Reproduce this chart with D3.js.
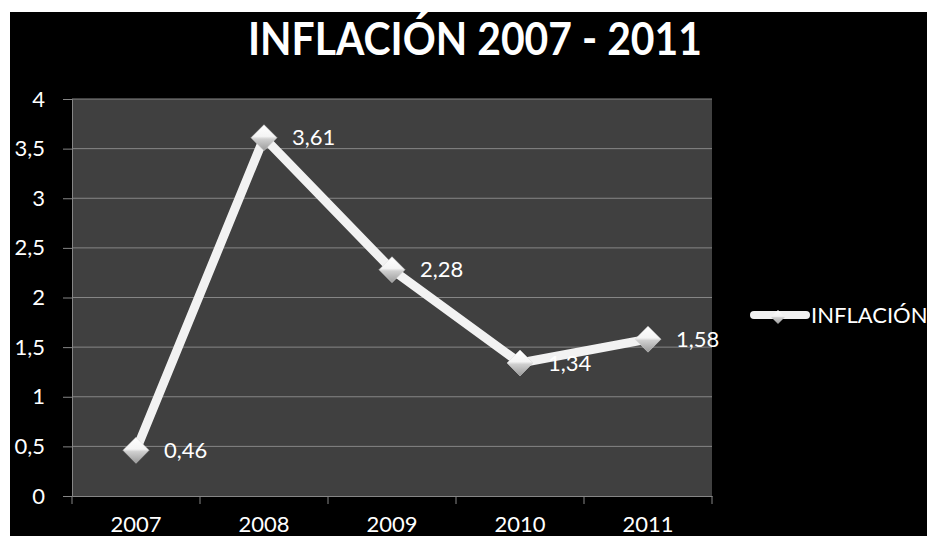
<!DOCTYPE html>
<html>
<head>
<meta charset="utf-8">
<script src="https://cdn.jsdelivr.net/npm/d3@7"></script>
<style>
  html, body { margin: 0; padding: 0; background: #fff; }
  svg { display: block; }
  text { font-family: Lato, "Open Sans", sans-serif; fill: #fff; }
</style>
</head>
<body>
<svg id="chart" width="927" height="536"></svg>
<script>
// Inflation by year
const years = ["2007", "2008", "2009", "2010", "2011"];
const inflation = [0.46, 3.61, 2.28, 1.34, 1.58];
const yTicks = [0, 0.5, 1, 1.5, 2, 2.5, 3, 3.5, 4];
const titleText = "INFLACIÓN 2007 - 2011";
const seriesName = "INFLACIÓN";

const W = 927, H = 536;
const FS = 22;
const FONT = "Lato, 'Open Sans', sans-serif";
const svg = d3.select("#chart");

// page background: black chart area inset from a white margin
svg.append("rect").attr("x", 0).attr("y", 0).attr("width", W).attr("height", H).attr("fill", "#fff");
svg.append("rect").attr("x", 10).attr("y", 12).attr("width", W - 10).attr("height", H - 12).attr("fill", "#000");

const plot = { left: 72, right: 712, top: 99, bottom: 496 };

const x = d3.scaleBand().domain(years).range([plot.left, plot.right]).padding(0);
const y = d3.scaleLinear().domain([0, 4]).range([plot.bottom, plot.top]);

// plot area
svg.append("rect")
  .attr("x", plot.left).attr("y", plot.top)
  .attr("width", plot.right - plot.left).attr("height", plot.bottom - plot.top)
  .attr("fill", "#404040");

// horizontal gridlines
svg.append("g").selectAll("line").data(yTicks.filter(d => d > 0)).join("line")
  .attr("x1", plot.left).attr("x2", plot.right)
  .attr("y1", d => y(d)).attr("y2", d => y(d))
  .attr("stroke", "#868686").attr("stroke-width", 1);

const fmt = d => String(d).replace(".", ",");

// y axis
const yAxis = svg.append("g")
  .attr("transform", `translate(${plot.left},0)`)
  .call(d3.axisLeft(y).tickValues(yTicks).tickFormat(fmt).tickSize(9).tickPadding(18));
yAxis.select(".domain").attr("stroke", "#868686");
yAxis.selectAll(".tick line").attr("stroke", "#868686");
yAxis.selectAll(".tick text").attr("font-size", FS).attr("fill", "#fff")
  .style("font-family", FONT);

// x axis, ticks on category boundaries
const xAxis = svg.append("g")
  .attr("transform", `translate(0,${plot.bottom})`)
  .call(d3.axisBottom(x).tickSize(0));
xAxis.select(".domain").attr("stroke", "#868686");
xAxis.selectAll(".tick text").attr("font-size", FS).attr("fill", "#fff")
  .attr("y", 36).attr("dy", 0)
  .style("font-family", FONT);
const bounds = years.map(d => x(d)).concat([x(years[years.length - 1]) + x.bandwidth()]);
xAxis.selectAll("line.bound").data(bounds).join("line")
  .attr("class", "bound")
  .attr("x1", d => d).attr("x2", d => d)
  .attr("y1", 0).attr("y2", 8)
  .attr("stroke", "#868686");

// marker gradient
const defs = svg.append("defs");
const grad = defs.append("linearGradient").attr("id", "mk").attr("x1", 0).attr("y1", 0).attr("x2", 0).attr("y2", 1);
grad.append("stop").attr("offset", "0%").attr("stop-color", "#ffffff");
grad.append("stop").attr("offset", "45%").attr("stop-color", "#f4f4f4");
grad.append("stop").attr("offset", "55%").attr("stop-color", "#cfcfcf");
grad.append("stop").attr("offset", "100%").attr("stop-color", "#9a9a9a");

const cx = d => x(d) + x.bandwidth() / 2;
const pts = years.map((d, i) => [cx(d), y(inflation[i])]);

// series line
svg.append("path")
  .attr("d", d3.line()(pts))
  .attr("fill", "none")
  .attr("stroke", "#f2f2f2")
  .attr("stroke-width", 9)
  .attr("stroke-linejoin", "round")
  .attr("stroke-linecap", "round");

const diamond = (r) => `M0,${-r}L${r},0L0,${r}L${-r},0Z`;

// markers
svg.append("g").selectAll("path").data(pts).join("path")
  .attr("transform", d => `translate(${d[0]},${d[1]})`)
  .attr("d", diamond(13))
  .attr("fill", "url(#mk)")
  .attr("stroke", "#d8d8d8")
  .attr("stroke-width", 0.5);

// value labels
svg.append("g").selectAll("text").data(years).join("text")
  .attr("x", d => cx(d) + 28)
  .attr("y", (d, i) => y(inflation[i]))
  .attr("dy", "0.35em")
  .attr("font-size", FS)
  .text((d, i) => fmt(inflation[i]));

// title
svg.append("text")
  .attr("x", 475).attr("y", 55)
  .attr("text-anchor", "middle")
  .attr("font-size", 45)
  .attr("font-weight", "bold")
  .attr("textLength", 454)
  .attr("lengthAdjust", "spacingAndGlyphs")
  .text(titleText);

// legend
const lg = svg.append("g").attr("transform", "translate(750,315)");
lg.append("line").attr("x1", 4).attr("x2", 56).attr("y1", 0).attr("y2", 0)
  .attr("stroke", "#f2f2f2").attr("stroke-width", 8).attr("stroke-linecap", "round");
lg.append("path").attr("transform", "translate(28,2)").attr("d", diamond(7))
  .attr("fill", "url(#mk)");
lg.append("text").attr("x", 61).attr("y", 0).attr("dy", "0.35em")
  .attr("font-size", FS).text(seriesName);
</script>
</body>
</html>
